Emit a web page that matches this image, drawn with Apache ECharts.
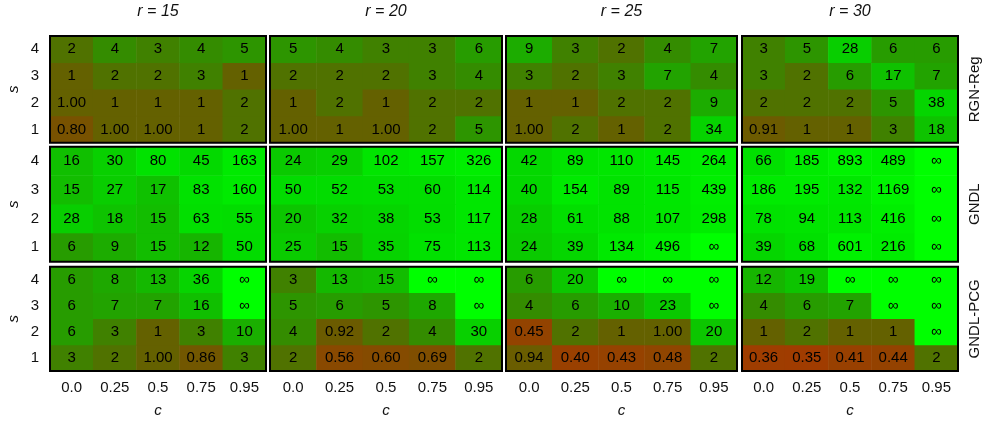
<!DOCTYPE html>
<html>
<head>
<meta charset="utf-8">
<script src="https://cdn.jsdelivr.net/npm/echarts@6/dist/echarts.min.js"></script>
<style>
  html, body { margin: 0; padding: 0; background: #fff; }
  #chart { width: 984px; height: 426px; }
</style>
</head>
<body>
<div id="chart"></div>
<script>
// Axis categories
const cLabels = ['0.0', '0.25', '0.5', '0.75', '0.95'];
const sLabels = ['1', '2', '3', '4'];
const rValues = [15, 20, 25, 30];
const methods = ['RGN-Reg', 'GNDL', 'GNDL-PCG'];
const INF = Infinity;

// Each table: rows s = 1..4 (bottom to top), columns c = 0.0 .. 0.95
const rgnReg_r15 = [
  [0.80, 0.998, 0.998, 1, 2],
  [0.998, 1, 1, 1, 2],
  [1, 2, 2, 3, 1],
  [2, 4, 3, 4, 5]
];
const rgnReg_r20 = [
  [0.998, 1, 0.998, 2, 5],
  [1, 2, 1, 2, 2],
  [2, 2, 2, 3, 4],
  [5, 4, 3, 3, 6]
];
const rgnReg_r25 = [
  [0.998, 2, 1, 2, 34],
  [1, 1, 2, 2, 9],
  [3, 2, 3, 7, 4],
  [9, 3, 2, 4, 7]
];
const rgnReg_r30 = [
  [0.91, 1, 1, 3, 18],
  [2, 2, 2, 5, 38],
  [3, 2, 6, 17, 7],
  [3, 5, 28, 6, 6]
];

const gndl_r15 = [
  [6, 9, 15, 12, 50],
  [28, 18, 15, 63, 55],
  [15, 27, 17, 83, 160],
  [16, 30, 80, 45, 163]
];
const gndl_r20 = [
  [25, 15, 35, 75, 113],
  [20, 32, 38, 53, 117],
  [50, 52, 53, 60, 114],
  [24, 29, 102, 157, 326]
];
const gndl_r25 = [
  [24, 39, 134, 496, INF],
  [28, 61, 88, 107, 298],
  [40, 154, 89, 115, 439],
  [42, 89, 110, 145, 264]
];
const gndl_r30 = [
  [39, 68, 601, 216, INF],
  [78, 94, 113, 416, INF],
  [186, 195, 132, 1169, INF],
  [66, 185, 893, 489, INF]
];

const pcg_r15 = [
  [3, 2, 0.998, 0.86, 3],
  [6, 3, 1, 3, 10],
  [6, 7, 7, 16, INF],
  [6, 8, 13, 36, INF]
];
const pcg_r20 = [
  [2, 0.56, 0.60, 0.69, 2],
  [4, 0.92, 2, 4, 30],
  [5, 6, 5, 8, INF],
  [3, 13, 15, INF, INF]
];
const pcg_r25 = [
  [0.94, 0.40, 0.43, 0.48, 2],
  [0.45, 2, 1, 0.998, 20],
  [4, 6, 10, 23, INF],
  [6, 20, INF, INF, INF]
];
const pcg_r30 = [
  [0.36, 0.35, 0.41, 0.44, 2],
  [1, 2, 1, 1, INF],
  [4, 6, 7, INF, INF],
  [12, 19, INF, INF, INF]
];

const tables = [
  [rgnReg_r15, rgnReg_r20, rgnReg_r25, rgnReg_r30],
  [gndl_r15, gndl_r20, gndl_r25, gndl_r30],
  [pcg_r15, pcg_r20, pcg_r25, pcg_r30]
];

// Panel layout
const colLeft = [50, 270, 506, 742];
const colWidth = [216, 232, 231, 216];
const rowTop = [36, 146.7, 266.7];
const rowHeight = [106.7, 115, 104.3];

const FONT = '"Liberation Sans", Arial, Helvetica, sans-serif';

// Red-brown (small) -> olive (1) -> bright green (large), on a log scale
const colorStops = [
  [0.35, [160, 60, 0]],
  [0.5, [142, 70, 0]],
  [0.8, [120, 82, 0]],
  [1.0, [100, 97, 0]],
  [2, [80, 114, 0]],
  [4, [52, 140, 0]],
  [8, [30, 168, 0]],
  [20, [12, 198, 0]],
  [50, [2, 220, 0]],
  [150, [0, 234, 0]],
  [1200, [0, 244, 0]]
];
function cellColor(v) {
  if (!isFinite(v)) return 'rgb(0,255,0)';
  const lv = Math.log10(v);
  if (v <= colorStops[0][0]) return 'rgb(' + colorStops[0][1].join(',') + ')';
  for (let i = 1; i < colorStops.length; i++) {
    const a = colorStops[i - 1], b = colorStops[i];
    if (v <= b[0]) {
      const t = (lv - Math.log10(a[0])) / (Math.log10(b[0]) - Math.log10(a[0]));
      const c = a[1].map((x, k) => Math.round(x + (b[1][k] - x) * t));
      return 'rgb(' + c.join(',') + ')';
    }
  }
  return 'rgb(' + colorStops[colorStops.length - 1][1].join(',') + ')';
}
function formatValue(v) {
  if (!isFinite(v)) return '\u221E';
  if (v < 1) return v.toFixed(2);
  return String(Math.round(v));
}

const grids = [], xAxes = [], yAxes = [], series = [];
for (let row = 0; row < 3; row++) {
  for (let col = 0; col < 4; col++) {
    const idx = row * 4 + col;
    grids.push({
      left: colLeft[col], top: rowTop[row], width: colWidth[col], height: rowHeight[row],
      show: true, borderColor: '#000', borderWidth: 2, backgroundColor: 'transparent', z: 10
    });
    const isTop = row === 0, isBottom = row === 2;
    xAxes.push({
      type: 'category', gridIndex: idx, data: cLabels,
      position: isTop ? 'top' : 'bottom',
      axisLine: { show: false }, axisTick: { show: false }, splitLine: { show: false },
      axisLabel: { show: isBottom, fontSize: 15, color: '#111', fontFamily: FONT, margin: 9 },
      name: isTop ? 'r = ' + rValues[col] : (isBottom ? 'c' : ''),
      nameLocation: 'middle',
      nameGap: isTop ? 16 : 32,
      nameTextStyle: { fontSize: isTop ? 16 : 15, fontStyle: 'italic', color: '#111', fontFamily: FONT }
    });
    const isLeft = col === 0, isRight = col === 3;
    yAxes.push({
      type: 'category', gridIndex: idx, data: sLabels,
      position: isRight ? 'right' : 'left',
      axisLine: { show: false }, axisTick: { show: false }, splitLine: { show: false },
      axisLabel: { show: isLeft, fontSize: 15, color: '#111', fontFamily: FONT, margin: 11 },
      name: isLeft ? 's' : (isRight ? methods[row] : ''),
      nameLocation: 'middle',
      nameRotate: 90,
      nameGap: isLeft ? 29 : 9,
      nameTextStyle: { fontSize: 15, fontStyle: isLeft ? 'italic' : 'normal', color: '#111', fontFamily: FONT }
    });
    const data = [];
    tables[row][col].forEach((vals, si) => {
      vals.forEach((v, ci) => {
        data.push({ value: [ci, si, v], itemStyle: { color: cellColor(v) } });
      });
    });
    series.push({
      type: 'heatmap', xAxisIndex: idx, yAxisIndex: idx, data: data,
      label: {
        show: true, fontSize: 15, color: '#000', fontFamily: FONT,
        formatter: p => formatValue(p.value[2])
      },
      emphasis: { disabled: true },
      progressive: 0, animation: false
    });
  }
}

const chart = echarts.init(document.getElementById('chart'), null, { renderer: 'canvas' });
chart.setOption({
  animation: false,
  backgroundColor: '#fff',
  grid: grids, xAxis: xAxes, yAxis: yAxes, series: series
});
</script>
</body>
</html>
